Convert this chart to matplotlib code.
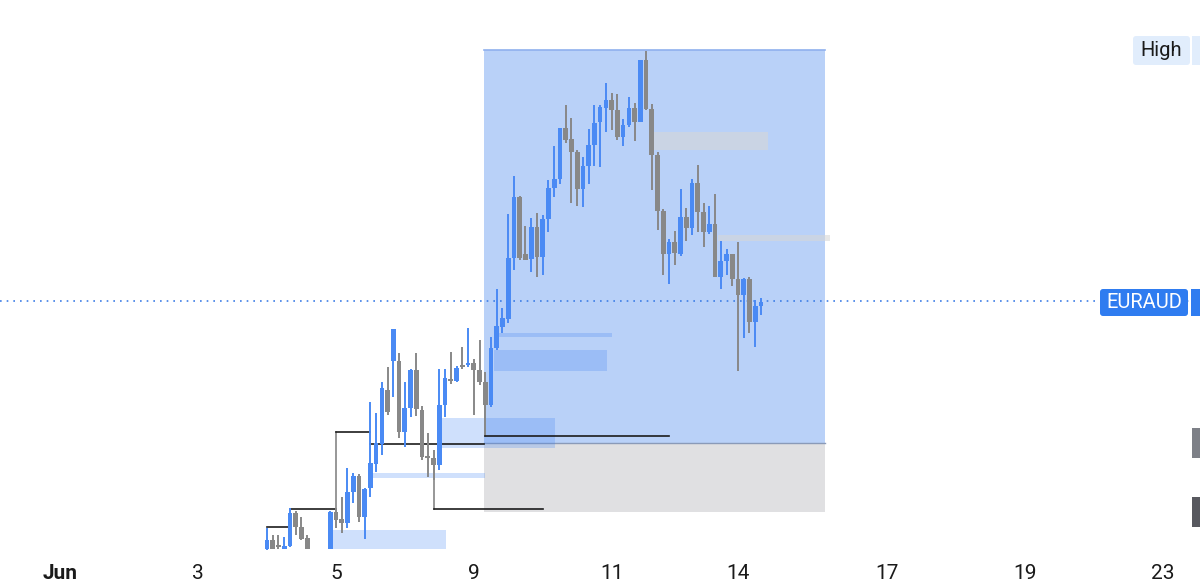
import matplotlib
matplotlib.use("Agg")
import matplotlib.pyplot as plt
from matplotlib.patches import Rectangle, FancyBboxPatch

# ---------------- data (bar index, prices in pips) ----------------
bar_idx = [0, 1, 2, 3, 4, 5, 6, 7] + list(range(11, 87))

opens = [51, 60, 55, 51, 54, 87, 73, 62,
         51, 88, 81, 77, 108, 124, 83, 112, 136, 156,
         210, 239, 239, 168, 192, 230, 190, 144, 142, 135,
         195, 221, 219, 235, 235, 237, 230, 218, 195, 252,
         273, 281, 342, 403, 346, 341, 373, 343, 381, 412,
         421, 472, 461, 448, 411, 434, 455, 478, 492, 500,
         490, 463, 475, 492, 478, 540, 491, 445, 389, 346,
         358, 346, 383, 372, 417, 388, 368, 376, 323, 339,
         346, 321, 305, 321, 278, 294]
highs = [72, 65, 65, 63, 92, 89, 83, 65,
         89, 92, 103, 132, 127, 126, 112, 198, 187, 218,
         233, 271, 247, 218, 231, 247, 194, 167, 150, 231,
         231, 248, 234, 253, 272, 241, 260, 228, 263, 311,
         292, 386, 424, 404, 374, 382, 387, 385, 420, 454,
         472, 495, 482, 450, 443, 471, 495, 495, 517, 507,
         506, 481, 503, 497, 540, 549, 496, 448, 391, 361,
         369, 411, 392, 421, 435, 397, 394, 406, 359, 351,
         346, 358, 322, 323, 300, 302]
lows = [50, 51, 51, 51, 53, 65, 60, 51,
        51, 72, 67, 72, 97, 78, 61, 103, 128, 145,
        185, 203, 162, 153, 183, 184, 140, 123, 120, 130,
        183, 216, 218, 231, 233, 185, 215, 165, 193, 250,
        267, 277, 330, 340, 340, 328, 323, 325, 368, 403,
        416, 457, 397, 394, 393, 416, 434, 433, 468, 470,
        460, 454, 473, 459, 478, 490, 410, 370, 325, 316,
        335, 344, 359, 365, 368, 353, 366, 323, 311, 325,
        314, 229, 262, 267, 253, 285]
closes = [60, 51, 53, 54, 87, 73, 61, 51,
          88, 80, 77, 108, 124, 83, 111, 137, 157, 212,
          188, 271, 168, 192, 230, 191, 143, 142, 135, 195,
          222, 219, 232, 233, 237, 230, 218, 195, 252, 274,
          282, 342, 403, 342, 340, 373, 343, 381, 412, 421,
          472, 460, 448, 411, 434, 455, 477, 493, 500, 490,
          463, 475, 492, 478, 540, 491, 445, 389, 346, 358,
          347, 383, 372, 417, 388, 368, 376, 323, 339, 346,
          321, 305, 321, 278, 294, 298]

last_price = 299

# x-axis date labels
tick_pos = [-36, -12, 12, 36, 60, 82, 108, 132, 156]
tick_labels = ["Jun", "3", "5", "9", "11", "14", "17", "19", "23"]

# range box (start bar, end bar, high, mid, low)
range_x = (37.75, 97.14)
range_high, range_mid, range_low = 550, 157, 88

# zones: (x0, x1, low, high)
blue_zones = [(11.0, 31.2, 51, 70), (18.45, 37.95, 122, 127),
              (30.1, 50.1, 152, 182), (39.5, 59.2, 229, 250),
              (39.5, 60.1, 263, 267)]
gray_zones = [(67.0, 87.2, 450, 468), (78.5, 98.0, 359, 365)]

# structure lines: horizontal (x0, x1, level), vertical (x, v0, v1)
struct_h = [(0, 4, 73), (4, 12, 91), (12, 18, 168), (18, 37.75, 156),
            (29, 48, 91), (38, 70, 164)]
struct_v = [(12, 91, 168), (29, 135, 91), (38, 195, 164)]

# ---------------- style ----------------
BLUE = "#4a8af4"
GRAY = "#888888"

fig = plt.figure(figsize=(12, 5.84), dpi=100)
ax = fig.add_axes([0, 29 / 584, 1, 555 / 584])
ax.set_xlim(-46.48, 162.43)
ax.set_ylim(45, 600)
for s in ax.spines.values():
    s.set_visible(False)
ax.set_yticks([])

# range box
w = range_x[1] - range_x[0]
ax.add_patch(Rectangle((range_x[0], range_mid), w, range_high - range_mid,
                       facecolor="#b9d1f8", edgecolor="none", zorder=1))
ax.add_patch(Rectangle((range_x[0], range_low), w, range_mid - range_low,
                       facecolor="#e0e0e2", edgecolor="none", zorder=1))
ax.plot([range_x[0], range_x[1]], [range_high, range_high], color="#8fb0ee", lw=1.2, zorder=2)
ax.plot([range_x[0], range_x[1]], [range_mid, range_mid], color="#8a9ab8", lw=1.0, zorder=2)

for x0, x1, lo, hi in blue_zones:
    ax.add_patch(Rectangle((x0, lo), x1 - x0, hi - lo, facecolor="#4285f4",
                           alpha=0.25, edgecolor="none", zorder=2))
for x0, x1, lo, hi in gray_zones:
    ax.add_patch(Rectangle((x0, lo), x1 - x0, hi - lo, facecolor="#d7d7d7",
                           alpha=0.6, edgecolor="none", zorder=2))

# structure lines
for x, v0, v1 in struct_v:
    ax.plot([x, x], [v0, v1], color="#7a7a7a", lw=1.1, zorder=3)
for x0, x1, v in struct_h:
    ax.plot([x0, x1], [v, v], color="#1c1c1c", lw=1.2, zorder=3)

# current price dotted line
ax.axhline(last_price, color="#3d7ee6", lw=1.2, ls=(0, (1, 3)), zorder=2)

# candles
for x, o, h, l, c in zip(bar_idx, opens, highs, lows, closes):
    col = BLUE if c >= o else GRAY
    ax.plot([x, x], [l, h], color=col, lw=1.4, zorder=4, solid_capstyle="butt")
    bot = min(o, c)
    hgt = max(abs(c - o), 1.5)
    ax.bar(x, hgt, bottom=bot, width=0.82, color=col, zorder=5, linewidth=0)

# x ticks
ax.set_xticks(tick_pos)
ax.set_xticklabels(tick_labels)
ax.tick_params(axis="x", length=0, pad=6.5, labelsize=15, labelcolor="#1a1a1a")
for lab in ax.get_xticklabels():
    lab.set_family(["Roboto", "DejaVu Sans"])
    if lab.get_text() == "Jun":
        lab.set_fontweight("bold")

# ---------------- right-side price-scale labels ----------------
ui = fig.add_axes([0, 0, 1, 1], zorder=10)
ui.set_xlim(0, 1200)
ui.set_ylim(584, 0)
ui.axis("off")
ui.patch.set_alpha(0)

ui.add_patch(FancyBboxPatch((1133, 36), 57, 29, boxstyle="round,pad=0,rounding_size=3",
                            facecolor="#e1edfc", edgecolor="none"))
ui.add_patch(Rectangle((1192, 36), 8, 29, facecolor="#e1edfc", edgecolor="none"))
ui.text(1161.5, 50.5, "High", ha="center", va="center", fontsize=14.5,
        color="#1a1a1a", family=["Roboto", "DejaVu Sans"])

ui.add_patch(FancyBboxPatch((1100, 289), 88, 27, boxstyle="round,pad=0,rounding_size=3",
                            facecolor="#2f7cf0", edgecolor="none"))
ui.add_patch(Rectangle((1191, 289), 9, 27, facecolor="#2f7cf0", edgecolor="none"))
ui.text(1144, 302.5, "EURAUD", ha="center", va="center", fontsize=14.5,
        color="white", family=["Roboto", "DejaVu Sans"])

ui.add_patch(Rectangle((1192, 428), 8, 30, facecolor="#7d8087", edgecolor="none"))
ui.add_patch(Rectangle((1192, 497), 8, 30, facecolor="#58595f", edgecolor="none"))

fig.savefig("out.png", dpi=100)
